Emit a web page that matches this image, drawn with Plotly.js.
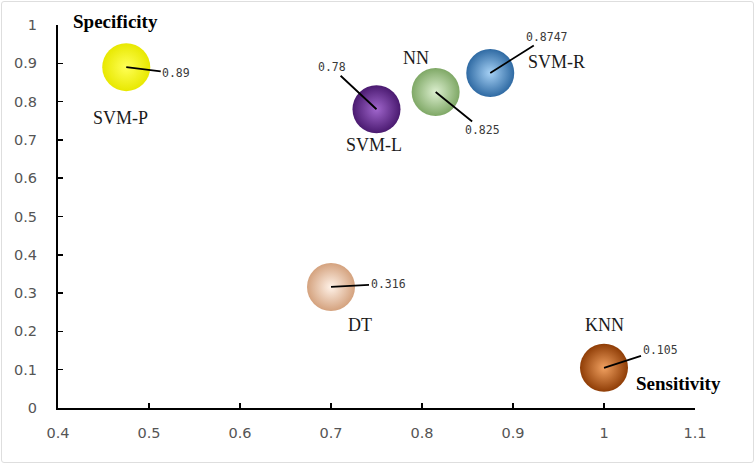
<!DOCTYPE html>
<html>
<head>
<meta charset="utf-8">
<script src="https://cdn.plot.ly/plotly-3.0.1.min.js"></script>
<style>
  html, body { margin: 0; padding: 0; background: #ffffff; }
  #wrap { position: relative; width: 756px; height: 465px; }
  #chart { width: 756px; height: 465px; }
  #frame { position: absolute; left: 1px; top: 1px; width: 751px; height: 460px;
           border: 1.5px solid #dedede; border-radius: 3px; pointer-events: none; }
</style>
</head>
<body>
<div id="wrap">
  <div id="chart"></div>
  <div id="frame"></div>
</div>
<script>
// ---- data ----
const models = ['SVM-P', 'SVM-L', 'NN', 'SVM-R', 'DT', 'KNN'];
const sensitivity = [0.475, 0.75, 0.815, 0.875, 0.70, 1.0];
const specificity = [0.89, 0.78, 0.825, 0.8747, 0.316, 0.105];
const xTickVals = [0.4, 0.5, 0.6, 0.7, 0.8, 0.9, 1.0, 1.1];
const yTickVals = [0, 0.1, 0.2, 0.3, 0.4, 0.5, 0.6, 0.7, 0.8, 0.9, 1.0];

// ---- styles ----
const edgeColors   = ['#e8e800', '#4a1a70', '#7fa866', '#2f6aa3', '#d4a27e', '#8f3d06'];
const centerColors = ['#ffff55', '#a066cc', '#dcefcf', '#a6d1f5', '#fff2e8', '#f0a060'];
// name label offsets in px (dx right, dy down)
const nameDx = [-6, -3, -20, 66, 29, 0];
const nameDy = [51, 36, -34, -11, 38, -43];
// value label offsets in px (ax right, ay down)
const valAx = [50, -45, 47, 57, 57, 56];
const valAy = [6, -42, 38, -36, -3, -18];

const trace = {
  type: 'scatter',
  mode: 'markers',
  x: sensitivity,
  y: specificity,
  text: models,
  hoverinfo: 'text',
  marker: {
    size: 48,
    color: edgeColors,
    gradient: { type: 'radial', color: centerColors },
    line: { width: 0 },
    opacity: 1
  },
  cliponaxis: false,
  showlegend: false
};

const annotations = [];
models.forEach((m, i) => {
  annotations.push({
    x: sensitivity[i], y: specificity[i], xref: 'x', yref: 'y',
    text: m, showarrow: false,
    xanchor: 'center', yanchor: 'middle',
    xshift: nameDx[i], yshift: -nameDy[i],
    font: { family: 'Liberation Serif', size: 18, color: '#1a1a1a' }
  });
  annotations.push({
    x: sensitivity[i], y: specificity[i], xref: 'x', yref: 'y',
    text: String(specificity[i]), showarrow: true,
    arrowhead: 0, arrowwidth: 1.8, arrowcolor: '#000000', standoff: 0,
    ax: valAx[i], ay: valAy[i], axref: 'pixel', ayref: 'pixel',
    borderpad: 1,
    font: { family: 'DejaVu Sans Mono', size: 11.5, color: '#3a3a3a' }
  });
});
annotations.push({
  xref: 'paper', yref: 'paper', x: 0, y: 1, xanchor: 'left', yanchor: 'middle',
  xshift: 13, yshift: 4, text: '<b>Specificity</b>', showarrow: false,
  font: { family: 'Liberation Serif', size: 19, color: '#000000' }
});
annotations.push({
  xref: 'paper', yref: 'paper', x: 1, y: 0, xanchor: 'center', yanchor: 'middle',
  xshift: -17, yshift: 25, text: '<b>Sensitivity</b>', showarrow: false,
  font: { family: 'Liberation Serif', size: 19, color: '#000000' }
});

const axisCommon = {
  showline: true, linecolor: '#000000', linewidth: 2,
  ticks: 'inside', ticklen: 5, tickwidth: 1.5, tickcolor: '#000000',
  showgrid: false, zeroline: false,
  tickfont: { family: 'DejaVu Sans', size: 14.5, color: '#555555' },
  fixedrange: true
};

const layout = {
  width: 756, height: 465,
  margin: { l: 58, r: 61, t: 25, b: 57, pad: 0 },
  paper_bgcolor: '#ffffff', plot_bgcolor: '#ffffff',
  xaxis: Object.assign({}, axisCommon, {
    range: [0.4, 1.1], tickvals: xTickVals, ticklabelstandoff: 11
  }),
  yaxis: Object.assign({}, axisCommon, {
    range: [0, 1], tickvals: yTickVals, ticklabelstandoff: 16
  }),
  annotations: annotations
};

Plotly.newPlot('chart', [trace], layout, { displayModeBar: false, staticPlot: true });
</script>
</body>
</html>
